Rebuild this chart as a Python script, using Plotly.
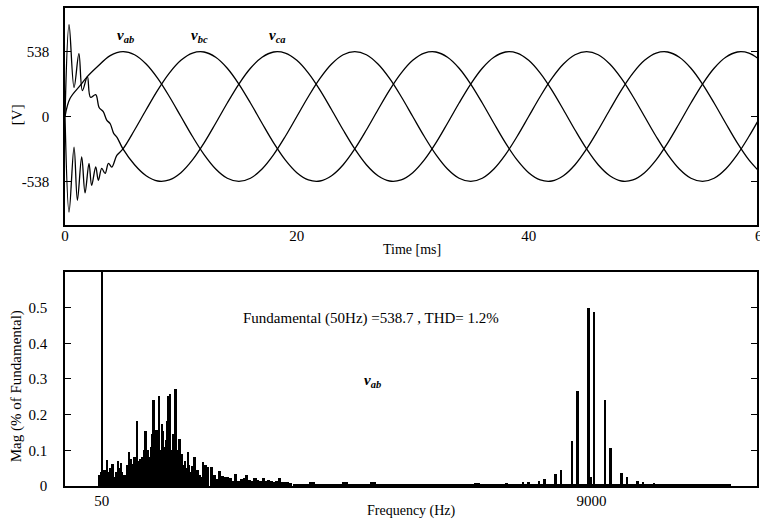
import plotly.graph_objects as go

# ---------------- Top panel: line voltages [V] vs time [ms] ----------------
T_AB = [0, 0.43, 1.3, 1.87, 2.74, 3.9, 5,
        6, 7, 8, 9, 10, 11, 12, 13, 14, 15, 16, 17, 18, 19,
        20, 21, 22, 23, 24, 25, 26, 27, 28, 29, 30, 31, 32, 33, 34, 35, 36, 37, 38, 39,
        40, 41, 42, 43, 44, 45, 46, 47, 48, 49, 50, 51, 52, 53, 54, 55, 56, 57, 58, 59, 60]
V_AB = [0, 149, 256, 325, 408, 505, 538,
        512, 435, 316, 166, 0, -166, -316, -435, -512, -538, -512, -435, -316, -166,
        0, 166, 316, 435, 512, 538, 512, 435, 316, 166, 0, -166, -316, -435, -512, -538, -512, -435, -316, -166,
        0, 166, 316, 435, 512, 538, 512, 435, 316, 166, 0, -166, -316, -435, -512, -538, -512, -435, -316, -166, 0]

T_BC = [0, 0.35, 0.78, 1.07, 1.44, 1.73, 2.07, 2.3, 2.65, 2.88, 3.17, 3.46, 3.75, 4.04, 4.47, 5,
        6, 7, 8, 9, 10, 11, 12, 13, 14, 15, 16, 17, 18, 19,
        20, 21, 22, 23, 24, 25, 26, 27, 28, 29, 30, 31, 32, 33, 34, 35, 36, 37, 38, 39,
        40, 41, 42, 43, 44, 45, 46, 47, 48, 49, 50, 51, 52, 53, 54, 55, 56, 57, 58, 59, 60]
V_BC = [0, -792, -254, -695, -336, -634, -389, -571, -419, -530, -431, -472, -389, -419, -323, -269,
        -112, 56, 219, 360, 466, 526, 535, 491, 400, 269, 112, -56, -219, -360,
        -466, -526, -535, -491, -400, -269, -112, 56, 219, 360, 466, 526, 535, 491, 400, 269, 112, -56, -219, -360,
        -466, -526, -535, -491, -400, -269, -112, 56, 219, 360, 466, 526, 535, 491, 400, 269, 112, -56, -219, -360, -466]

T_CA = [0, 0.35, 0.78, 1.2, 1.5, 1.93, 2.2, 2.65, 2.94, 3.3, 3.6, 3.9, 4.2, 4.5, 5,
        6, 7, 8, 9, 10, 11, 12, 13, 14, 15, 16, 17, 18, 19,
        20, 21, 22, 23, 24, 25, 26, 27, 28, 29, 30, 31, 32, 33, 34, 35, 36, 37, 38, 39,
        40, 41, 42, 43, 44, 45, 46, 47, 48, 49, 50, 51, 52, 53, 54, 55, 56, 57, 58, 59, 60]
V_CA = [0, 761, 240, 521, 215, 331, 160, 182, 75, 40, -30, -60, -140, -175, -269,
        -400, -491, -535, -526, -466, -360, -219, -56, 112, 269, 400, 491, 535, 526,
        466, 360, 219, 56, -112, -269, -400, -491, -535, -526, -466, -360, -219, -56, 112, 269, 400, 491, 535, 526,
        466, 360, 219, 56, -112, -269, -400, -491, -535, -526, -466, -360, -219, -56, 112, 269, 400, 491, 535, 526, 466]

TIME_TICKS = [0, 20, 40]
VOLT_TICKS = [-538, 0, 538]
VOLT_TICK_TEXT = ["-538", "0", "538"]

# ---------------- Bottom panel: spectrum of v_ab ----------------
FUND_HZ = [50]
FUND_MAG = [100.0]

LOW_HZ = [0, 25, 50, 75, 100, 125, 150, 175, 200, 225, 250, 275, 300, 325, 350, 375, 400, 425, 450, 475,
          500, 525, 550, 575, 600, 625, 650, 675, 700, 725, 750, 775, 800, 825, 850, 875, 900, 925, 950, 975,
          1000, 1025, 1050, 1075, 1100, 1125, 1150, 1175, 1200, 1225, 1250, 1275, 1300, 1325, 1350, 1375,
          1400, 1425, 1450, 1475, 1500, 1525, 1550, 1575, 1600, 1625, 1650, 1675, 1700, 1725, 1750, 1775,
          1800, 1825, 1850, 1875, 1900, 1925, 1950, 1975, 2000]
LOW_MAG = [0.03, 0.02, 0.04, 0.04, 0.045, 0.03, 0.073, 0.04, 0.05, 0.03, 0.063, 0.025, 0.025, 0.04, 0.07, 0.05,
           0.065, 0.04, 0.03, 0.025, 0.03, 0.06, 0.095, 0.077, 0.063, 0.05, 0.082, 0.06, 0.183, 0.07, 0.077, 0.06,
           0.08, 0.1, 0.155, 0.09, 0.1, 0.08, 0.108, 0.146, 0.241, 0.12, 0.157, 0.13, 0.253, 0.1, 0.174, 0.155,
           0.108, 0.13, 0.183, 0.253, 0.258, 0.1, 0.146, 0.12, 0.272, 0.08, 0.1, 0.132, 0.08, 0.09, 0.06, 0.07,
           0.05, 0.095, 0.06, 0.04, 0.055, 0.04, 0.08, 0.045, 0.045, 0.03, 0.03, 0.025, 0.066, 0.03, 0.06, 0.025,
           0.052]

MID_HZ = [2050, 2100, 2150, 2200, 2250, 2300, 2350, 2400, 2450, 2500, 2550, 2600, 2650, 2700, 2750,
          2800, 2850, 2900, 2950, 3000, 3050, 3100, 3150, 3200, 3250, 3300, 3350, 3400, 3450, 3500]
MID_MAG = [0.052, 0.03, 0.02, 0.042, 0.028, 0.025, 0.025, 0.022, 0.015, 0.033, 0.015, 0.02, 0.022, 0.031, 0.018,
           0.015, 0.022, 0.018, 0.015, 0.022, 0.013, 0.018, 0.015, 0.012, 0.014, 0.022, 0.012, 0.012, 0.01, 0.008]

FLOOR_HZ = [3600, 3700, 3800, 3900, 4000, 4100, 4200, 4300, 4400, 4500, 4600, 4700, 4800, 4900, 5000,
            5100, 5200, 5300, 5400, 5500, 5600, 5700, 5800, 5900, 6000, 6100, 6200, 6300, 6400, 6500,
            6600, 6700, 6800, 6900, 7000, 7100, 7200, 7300, 7400, 7500, 7600, 7700, 7800, 7900, 8000,
            8100, 8200, 8300, 8400, 8500, 8600, 8700, 8800, 8900, 9000, 9100, 9200, 9300, 9400, 9500,
            9600, 9700, 9800, 9900, 10000, 10100, 10200, 10300, 10400, 10500, 10600, 10700, 10800,
            10900, 11000, 11100, 11200, 11300, 11400, 11500]
FLOOR_MAG = [0.006, 0.005, 0.006, 0.012, 0.005, 0.004, 0.005, 0.004, 0.005, 0.012, 0.005, 0.004, 0.004, 0.005,
             0.01, 0.004, 0.004, 0.004, 0.005, 0.004, 0.004, 0.003, 0.004, 0.004, 0.003, 0.004, 0.004, 0.003,
             0.004, 0.004, 0.003, 0.004, 0.004, 0.008, 0.004, 0.003, 0.004, 0.004, 0.004, 0.004, 0.004, 0.004,
             0.004, 0.004, 0.004, 0.004, 0.004, 0.004, 0.004, 0.004, 0.004, 0.004, 0.004, 0.004, 0.004, 0.004,
             0.004, 0.004, 0.004, 0.004, 0.004, 0.004, 0.004, 0.004, 0.004, 0.004, 0.004, 0.003, 0.003, 0.003,
             0.003, 0.003, 0.003, 0.003, 0.003, 0.003, 0.003, 0.003, 0.003, 0.003]

CARRIER_HZ = [7450, 7550, 7750, 7850, 8050, 8150, 8350, 8450, 8550, 8650, 8750, 8950, 9000, 9050,
              9250, 9350, 9550, 9650, 9850, 9950, 10150, 10250, 10450, 10550]
CARRIER_MAG = [0.009, 0.007, 0.01, 0.012, 0.015, 0.019, 0.035, 0.044, 0.006, 0.125, 0.266, 0.5, 0.025, 0.488,
               0.24, 0.106, 0.037, 0.025, 0.015, 0.012, 0.009, 0.007, 0.006, 0.006]

FREQ_TICKS = [50, 9000]
MAG_TICKS = [0, 0.1, 0.2, 0.3, 0.4, 0.5]
MAG_TICK_TEXT = ["0", "0.1", "0.2", "0.3", "0.4", "0.5"]

FONT = "Liberation Serif"
BLACK = "#000000"

fig = go.Figure()

for t, v in [(T_AB, V_AB), (T_BC, V_BC), (T_CA, V_CA)]:
    fig.add_trace(go.Scatter(x=t, y=v, mode="lines", xaxis="x", yaxis="y",
                             line=dict(color=BLACK, width=1.3, shape="spline", smoothing=1.0),
                             hoverinfo="skip"))

bar_marker = dict(color=BLACK, line=dict(width=0))
fig.add_trace(go.Bar(x=FLOOR_HZ, y=FLOOR_MAG, width=110, xaxis="x2", yaxis="y2", marker=bar_marker))
fig.add_trace(go.Bar(x=MID_HZ, y=MID_MAG, width=58, xaxis="x2", yaxis="y2", marker=bar_marker))
fig.add_trace(go.Bar(x=LOW_HZ, y=LOW_MAG, width=34, xaxis="x2", yaxis="y2", marker=bar_marker))
fig.add_trace(go.Bar(x=CARRIER_HZ, y=CARRIER_MAG, width=36, xaxis="x2", yaxis="y2", marker=bar_marker))
fig.add_trace(go.Bar(x=FUND_HZ, y=FUND_MAG, width=50, xaxis="x2", yaxis="y2", marker=bar_marker))

axis_common = dict(showline=True, linecolor=BLACK, linewidth=1.5, showgrid=False, zeroline=False,
                   tickfont=dict(family=FONT, size=15, color=BLACK))

fig.update_layout(
    width=760, height=522,
    margin=dict(l=65, r=1, t=8, b=36),
    paper_bgcolor="white", plot_bgcolor="white",
    showlegend=False, barmode="overlay", bargap=0,
    font=dict(family=FONT, color=BLACK),
    xaxis=dict(domain=[0, 1], anchor="y", range=[0, 59.7], tickvals=TIME_TICKS, ticks="",
               mirror=True, ticklabelstandoff=-4, **axis_common),
    yaxis=dict(domain=[0.546, 1], anchor="x", range=[-900, 900], tickvals=VOLT_TICKS, ticktext=VOLT_TICK_TEXT,
               ticks="inside", ticklen=6, tickcolor=BLACK, tickwidth=1.2, mirror="ticks",
               ticklabelstandoff=11, **axis_common),
    xaxis2=dict(domain=[0, 1], anchor="y2", range=[-624, 12026], tickvals=FREQ_TICKS, ticks="",
                mirror=True, ticklabelstandoff=0, **axis_common),
    yaxis2=dict(domain=[0, 0.4477], anchor="x2", range=[0, 0.6], tickvals=MAG_TICKS, ticktext=MAG_TICK_TEXT,
                ticks="inside", ticklen=6, tickcolor=BLACK, tickwidth=1.2, mirror="ticks",
                ticklabelstandoff=13, **axis_common),
)

ann_font = dict(family=FONT, size=15, color=BLACK)
annotations = [
    dict(text="Time [ms]", xref="paper", yref="paper", x=0.501, y=0.4958, showarrow=False,
         xanchor="center", yanchor="middle", font=dict(family=FONT, size=14, color=BLACK)),
    dict(text="Frequency (Hz)", xref="paper", yref="paper", x=0.5, y=-0.0523, showarrow=False,
         xanchor="center", yanchor="middle", font=dict(family=FONT, size=14, color=BLACK)),
    dict(text="[V]", xref="paper", yref="paper", x=-0.0692, y=0.776, showarrow=False, textangle=-90,
         xanchor="center", yanchor="middle", font=ann_font),
    dict(text="Mag (% of Fundamental)", xref="paper", yref="paper", x=-0.0706, y=0.209, showarrow=False,
         textangle=-90, xanchor="center", yanchor="middle", font=ann_font),
    dict(text="60", xref="paper", yref="paper", x=1.0075, y=0.523, showarrow=False,
         xanchor="center", yanchor="middle", font=ann_font),
    dict(text="<b><i>v<sub>ab</sub></i></b>", xref="x", yref="y", x=5.2, y=665, showarrow=False,
         xanchor="center", yanchor="middle", font=ann_font),
    dict(text="<b><i>v<sub>bc</sub></i></b>", xref="x", yref="y", x=11.6, y=665, showarrow=False,
         xanchor="center", yanchor="middle", font=ann_font),
    dict(text="<b><i>v<sub>ca</sub></i></b>", xref="x", yref="y", x=18.3, y=665, showarrow=False,
         xanchor="center", yanchor="middle", font=ann_font),
    dict(text="Fundamental (50Hz) =538.7 , THD= 1.2%", xref="x2", yref="y2", x=4970, y=0.47,
         showarrow=False, xanchor="center", yanchor="middle", font=ann_font),
    dict(text="<b><i>v<sub>ab</sub></i></b>", xref="x2", yref="y2", x=4990, y=0.294, showarrow=False,
         xanchor="center", yanchor="middle", font=ann_font),
]
fig.update_layout(annotations=annotations)

fig.write_html("out.html")
